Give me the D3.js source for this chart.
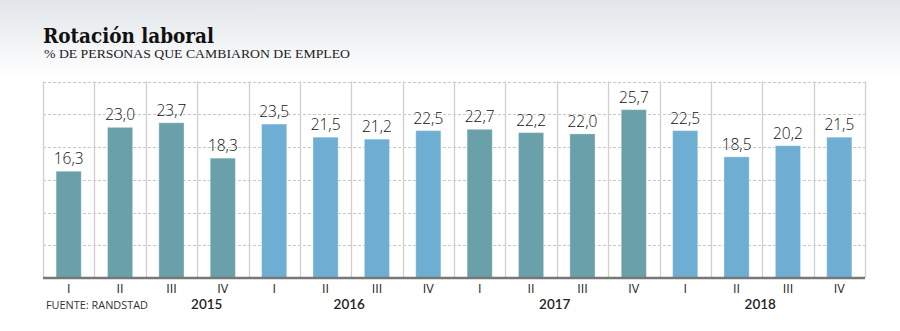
<!DOCTYPE html>
<html><head><meta charset="utf-8">
<script src="https://cdn.jsdelivr.net/npm/d3@7"></script>
<style>body{margin:0;background:#fff}svg{display:block}</style>
</head><body>
<script>
const years = ["2015","2016","2017","2018"];
const quarters = ["I","II","III","IV"];
const values = [16.3,23.0,23.7,18.3, 23.5,21.5,21.2,22.5, 22.7,22.2,22.0,25.7, 22.5,18.5,20.2,21.5];
const yTicks = [0,5,10,15,20,25,30];
const yearColors = ["#69a0a9","#6eaed2","#69a0a9","#6eaed2"];

const W=900,H=331;
const svg=d3.select("body").append("svg").attr("width",W).attr("height",H);
const defs=svg.append("defs");
const g=defs.append("linearGradient").attr("id","hdr").attr("x1",0).attr("y1",0).attr("x2",0).attr("y2",1);
g.append("stop").attr("offset",0).attr("stop-color","#e1e5e9");
g.append("stop").attr("offset",1).attr("stop-color","#ffffff");
svg.append("rect").attr("width",W).attr("height",78).attr("fill","url(#hdr)");

svg.append("text").attr("x",43).attr("y",43).text("Rotación laboral")
  .attr("font-family","'DejaVu Serif','Liberation Serif',serif").attr("font-weight","bold")
  .attr("font-size",21).attr("fill","#111").attr("textLength",171).attr("lengthAdjust","spacingAndGlyphs");
svg.append("text").attr("x",44).attr("y",58).text("% DE PERSONAS QUE CAMBIARON DE EMPLEO")
  .attr("font-family","'Liberation Serif',serif").attr("font-size",13.5).attr("fill","#222")
  .attr("textLength",306).attr("lengthAdjust","spacingAndGlyphs");

const data = values.map((v,i)=>({i, v, year:Math.floor(i/4), q:quarters[i%4]}));
const idx = d3.range(values.length);
const x = d3.scaleBand().domain(idx).range([43,865]).padding(0);
const xb = d3.scaleBand().domain(idx).range([43,865]).paddingInner(0.51).paddingOuter(0.255);
const y = d3.scaleLinear().domain([0,30]).range([278,81.5]);

// horizontal dashed grid
svg.append("g").selectAll("line").data(yTicks.slice(1)).join("line")
  .attr("x1",43).attr("x2",865).attr("y1",d=>Math.round(y(d))+0.5).attr("y2",d=>Math.round(y(d))+0.5)
  .attr("stroke","#c8c8c8").attr("stroke-dasharray","3,2");
// vertical solid grid
const vx = idx.map(i=>x(i)).concat([x(idx[idx.length-1])+x.bandwidth()]);
svg.append("g").selectAll("line").data(vx).join("line")
  .attr("x1",d=>Math.round(d)+0.5).attr("x2",d=>Math.round(d)+0.5).attr("y1",y(30)).attr("y2",y(0))
  .attr("stroke","#cfcfcf").attr("stroke-width",1.3);

// bars
svg.append("g").selectAll("rect").data(data).join("rect")
  .attr("x",d=>xb(d.i)).attr("width",xb.bandwidth())
  .attr("y",d=>y(d.v)).attr("height",d=>y(0)-y(d.v))
  .attr("fill",d=>yearColors[d.year]).attr("stroke","rgba(255,255,255,0.35)").attr("stroke-width",1);

// value labels
svg.append("g").selectAll("text").data(data).join("text")
  .attr("x",d=>xb(d.i)+xb.bandwidth()/2).attr("y",d=>y(d.v)-7)
  .attr("text-anchor","middle").text(d=>d.v.toFixed(1).replace(".",","))
  .attr("font-family","'Open Sans',sans-serif").attr("font-weight",300).attr("font-size",15.5).attr("fill","#111");

// baseline
svg.append("line").attr("x1",43).attr("x2",865).attr("y1",y(0)).attr("y2",y(0))
  .attr("stroke","#777").attr("stroke-width",2.5);

// quarter labels
svg.append("g").selectAll("text").data(data).join("text")
  .attr("x",d=>x(d.i)+x.bandwidth()/2).attr("y",293).attr("text-anchor","middle").text(d=>d.q)
  .attr("font-family","'Open Sans',sans-serif").attr("font-size",12.5).attr("fill","#222")
  .attr("transform",d=>`translate(${(x(d.i)+x.bandwidth()/2)*0.15},0) scale(0.85,1)`)
  .attr("transform",null);

// year labels
svg.append("g").selectAll("text").data(years).join("text")
  .attr("x",(d,k)=>{const a=x(k*4), b=x(k*4+3)+x.bandwidth(); return (a+b)/2 + (k===0?61:-2);})
  .attr("y",309).attr("text-anchor","middle").text(d=>d)
  .attr("font-family","Lato,sans-serif").attr("font-weight",600).attr("font-size",13.5).attr("fill","#222");

svg.append("text").attr("x",46).attr("y",309).text("FUENTE: RANDSTAD")
  .attr("font-family","'Open Sans',sans-serif").attr("font-size",11.5).attr("fill","#333")
  .attr("textLength",102).attr("lengthAdjust","spacingAndGlyphs");
</script>
</body></html>
